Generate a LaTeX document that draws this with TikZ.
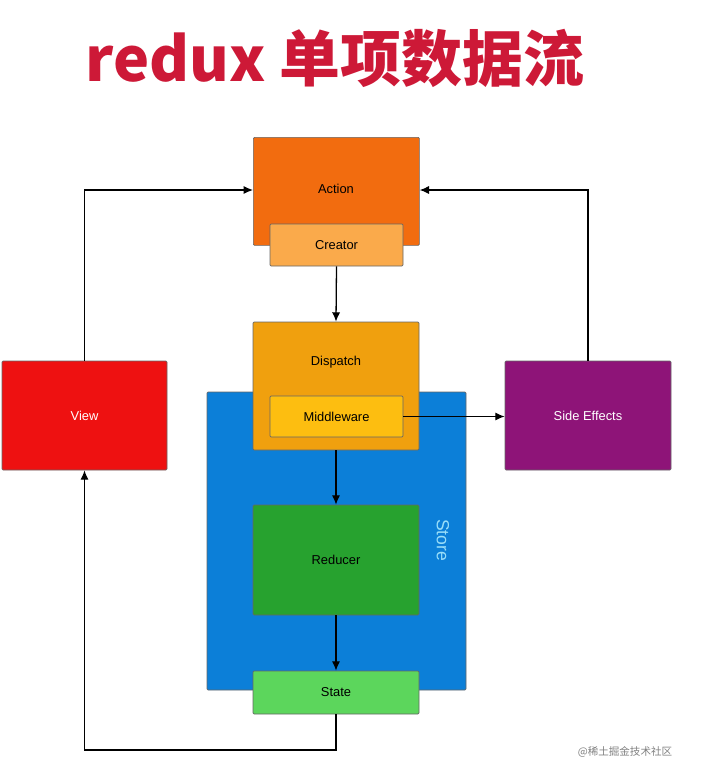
\documentclass[tikz,border=0pt]{standalone}
\usepackage{fontspec}
\setmainfont{Liberation Sans}
\newfontfamily\cjk{Noto Sans CJK SC}
\usetikzlibrary{arrows.meta}
\begin{document}
\begin{tikzpicture}[x=0.03cm,y=-0.03cm,
  box/.style={draw=black!60,line width=0.6pt,rounded corners=1pt,inner sep=0pt,font=\fontsize{11}{13}\selectfont},
  arr/.style={-{Latex[length=8pt,width=7pt]},line width=1.1pt,black}]
\useasboundingbox (0,0) rectangle (708,782);
\definecolor{actc}{RGB}{242,108,15}
\definecolor{crec}{RGB}{250,170,75}
\definecolor{stoc}{RGB}{12,127,216}
\definecolor{disc}{RGB}{240,160,14}
\definecolor{midc}{RGB}{253,190,16}
\definecolor{redc}{RGB}{39,162,47}
\definecolor{stac}{RGB}{92,214,92}
\definecolor{vic}{RGB}{238,17,17}
\definecolor{sec}{RGB}{142,20,120}
\definecolor{titc}{RGB}{205,25,55}
\node[font=\cjk\bfseries\fontsize{52}{58}\selectfont,text=titc] (title) at (335,58) {redux 单项数据流};
\node[box,fill=stoc,minimum width=259*0.03cm,minimum height=298*0.03cm] (store) at (336.5,541) {};
\node[rotate=-90,text=cyan!40!white,font=\fontsize{15}{17}\selectfont] (storel) at (443,540) {Store};
\node[box,fill=actc,minimum width=166*0.03cm,minimum height=108*0.03cm,anchor=north west] (action) at (253,137) {};
\node (actionl) at (336,189) {\fontsize{11}{13}\selectfont Action};
\node[box,fill=crec,minimum width=133*0.03cm,minimum height=42*0.03cm] (creator) at (336.5,245) {Creator};
\node[box,fill=disc,minimum width=166*0.03cm,minimum height=128*0.03cm] (dispatch) at (336,386) {};
\node (dispatchl) at (336,362) {\fontsize{11}{13}\selectfont Dispatch};
\node[box,fill=midc,minimum width=133*0.03cm,minimum height=41*0.03cm] (mid) at (336.5,416.5) {Middleware};
\node[box,fill=redc,minimum width=166*0.03cm,minimum height=110*0.03cm] (reducer) at (336,560) {Reducer};
\node[box,fill=stac,minimum width=166*0.03cm,minimum height=43*0.03cm] (state) at (336,692.5) {State};
\node[box,fill=vic,text=white,minimum width=165*0.03cm,minimum height=109*0.03cm] (view) at (84.5,415.5) {View};
\node[box,fill=sec,text=white,minimum width=166*0.03cm,minimum height=109*0.03cm] (se) at (588,415.5) {Side Effects};
\draw[arr] (view.north) |- (action.west |- 0,190);
\draw[arr] (se.north) |- (action.east |- 0,190);
\draw[arr] (creator.south) -- (dispatch.north);
\draw[arr] (mid.east) -- (se.west |- mid.east);
\draw[arr] (dispatch.south) -- (reducer.north);
\draw[arr] (reducer.south) -- (state.north);
\draw[arr] (state.south) -- (336,750) -| (view.south);
\node[text=gray,font=\cjk\fontsize{9}{11}\selectfont] (wm) at (625,752) {@稀土掘金技术社区};
\end{tikzpicture}
\end{document}
